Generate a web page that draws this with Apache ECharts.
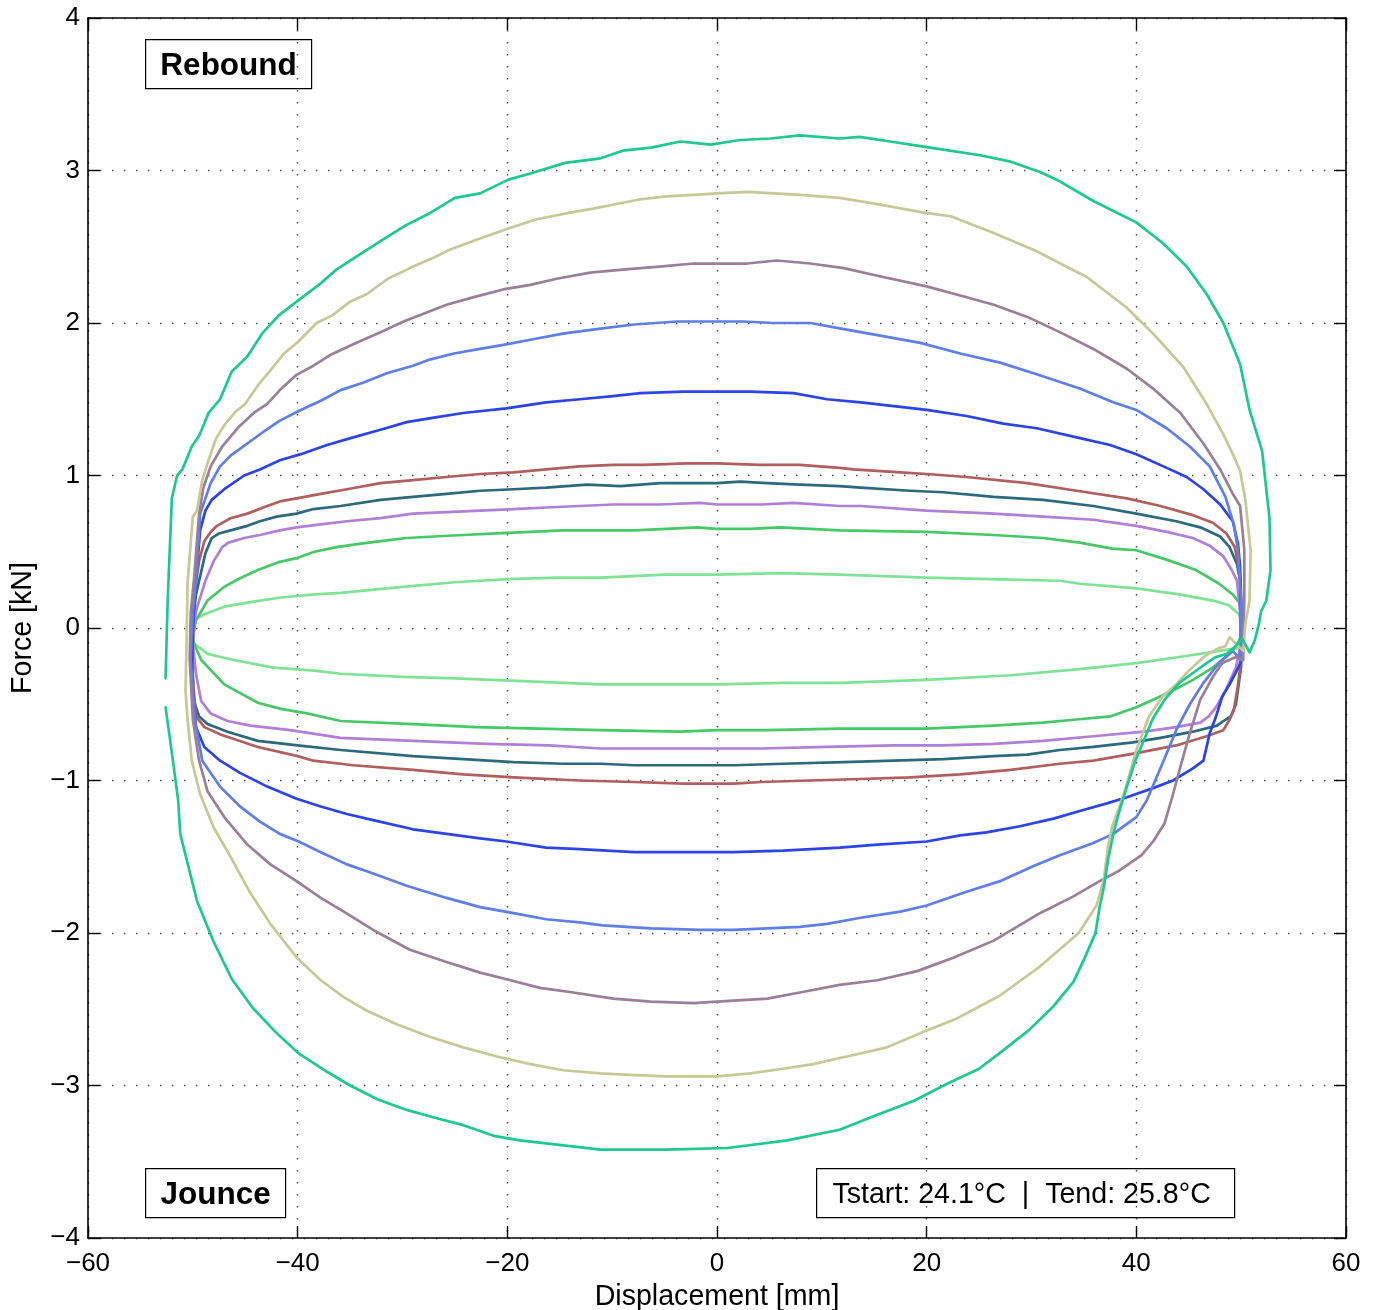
<!DOCTYPE html>
<html>
<head>
<meta charset="utf-8">
<title>Force vs Displacement</title>
<script src="https://cdn.jsdelivr.net/npm/echarts@6/dist/echarts.min.js"></script>
<style>
  html, body { margin: 0; padding: 0; background: #fff; }
  #app { width: 1380px; height: 1310px; }
</style>
</head>
<body>
<div id="app"></div>
<script>
// axis ticks
var xTicks = [-60, -40, -20, 0, 20, 40, 60];
var yTicks = [-4, -3, -2, -1, 0, 1, 2, 3, 4];

// each loop: upper branch (left -> right), lower branch (right -> left)  [mm, kN]
var tealUpper = [[-52.6,-0.33],[-52.4,0.18],[-52.0,0.85],[-51.5,1.00],[-51.0,1.04],[-50.1,1.19],[-49.4,1.26],[-48.5,1.41],[-47.4,1.50],[-46.3,1.68],[-44.8,1.78],[-43.4,1.93],[-41.8,2.05],[-40.1,2.14],[-37.8,2.26],[-36.3,2.35],[-34.3,2.44],[-31.8,2.55],[-29.7,2.64],[-27.4,2.72],[-25.0,2.82],[-22.6,2.85],[-19.9,2.94],[-17.8,2.98],[-14.5,3.05],[-11.1,3.08],[-9.0,3.13],[-6.3,3.15],[-3.5,3.19],[-0.6,3.17],[2.2,3.20],[5.1,3.21],[7.9,3.23],[11.7,3.21],[13.6,3.22],[16.5,3.19],[19.4,3.16],[22.2,3.13],[25.1,3.10],[27.9,3.06],[30.8,2.99],[32.4,2.94],[35.9,2.80],[40.0,2.66],[42.6,2.52],[44.8,2.37],[46.7,2.19],[48.3,2.00],[49.9,1.73],[50.8,1.43],[52.0,1.16],[52.7,0.72],[52.8,0.38],[52.4,0.18],[51.9,0.11],[51.7,0.03],[51.3,-0.08],[50.8,-0.16],[50.1,-0.07]];
var tealLower = [[49.3,-0.13],[48.6,-0.17],[47.6,-0.19],[46.7,-0.23],[45.3,-0.30],[44.1,-0.36],[42.7,-0.47],[41.6,-0.59],[40.7,-0.74],[39.9,-0.87],[39.1,-1.04],[38.3,-1.22],[37.8,-1.35],[37.3,-1.52],[36.9,-1.70],[36.5,-1.83],[36.1,-2.00],[35.1,-2.16],[34.0,-2.32],[32.1,-2.48],[29.7,-2.64],[27.3,-2.77],[25.0,-2.89],[21.9,-2.99],[18.8,-3.10],[15.0,-3.20],[11.7,-3.29],[6.7,-3.36],[1.0,-3.41],[-4.8,-3.42],[-11.1,-3.42],[-16.3,-3.38],[-18.8,-3.36],[-21.3,-3.33],[-24.2,-3.26],[-27.0,-3.21],[-29.6,-3.16],[-32.4,-3.09],[-35.0,-3.00],[-37.2,-2.91],[-39.9,-2.79],[-42.1,-2.65],[-44.3,-2.49],[-46.3,-2.30],[-48.0,-2.06],[-49.6,-1.79],[-51.2,-1.35],[-51.4,-1.13],[-51.9,-0.87],[-52.3,-0.67],[-52.6,-0.52]];

var khakiUpper = [[-50.6,-0.10],[-50.5,0.30],[-50.0,0.73],[-49.6,0.77],[-49.1,0.97],[-48.6,1.08],[-47.8,1.24],[-47.0,1.33],[-45.9,1.42],[-45.0,1.47],[-43.7,1.60],[-42.6,1.69],[-41.3,1.80],[-39.9,1.88],[-38.2,2.00],[-36.7,2.05],[-35.0,2.14],[-33.4,2.19],[-31.4,2.29],[-29.3,2.36],[-27.0,2.43],[-25.5,2.48],[-23.2,2.54],[-19.9,2.62],[-17.2,2.68],[-14.3,2.72],[-11.8,2.75],[-9.6,2.78],[-7.4,2.81],[-4.8,2.83],[-2.2,2.84],[0,2.85],[2.9,2.86],[5.4,2.85],[7.9,2.84],[11.7,2.82],[15.3,2.78],[20.0,2.72],[22.3,2.70],[26.4,2.59],[30.5,2.47],[35.3,2.30],[39.1,2.10],[41.6,1.93],[44.5,1.71],[46.7,1.47],[48.3,1.27],[49.2,1.14],[49.9,1.03],[50.4,0.84],[50.9,0.51],[50.8,0.18],[50.4,0.03],[50.2,-0.15],[48.9,-0.06],[48.5,-0.12]];
var khakiLower = [[47.9,-0.13],[46.6,-0.18],[45.0,-0.28],[43.8,-0.37],[42.5,-0.45],[41.2,-0.58],[40.0,-0.80],[39.1,-1.02],[38.3,-1.19],[37.7,-1.30],[37.3,-1.43],[36.9,-1.65],[36.2,-1.82],[34.5,-2.00],[30.8,-2.22],[27.0,-2.41],[22.9,-2.56],[20.0,-2.64],[16.2,-2.75],[13.7,-2.79],[11.7,-2.82],[9.2,-2.86],[6.3,-2.89],[3.2,-2.92],[0,-2.94],[-4.8,-2.94],[-8.3,-2.93],[-11.1,-2.92],[-14.7,-2.90],[-17.8,-2.86],[-21.0,-2.81],[-24.2,-2.75],[-27.4,-2.68],[-30.5,-2.60],[-33.4,-2.51],[-35.6,-2.42],[-37.8,-2.31],[-40.1,-2.16],[-42.6,-1.94],[-44.5,-1.74],[-46.4,-1.50],[-48.0,-1.31],[-49.3,-1.09],[-50.1,-0.87],[-50.5,-0.60],[-50.7,-0.41],[-50.6,-0.10]];

var mauveUpper = [[-50.3,-0.20],[-50.2,0.10],[-49.9,0.31],[-49.4,0.75],[-49.0,0.92],[-48.3,1.06],[-47.2,1.19],[-45.6,1.32],[-44.2,1.41],[-42.9,1.47],[-41.7,1.56],[-40.1,1.66],[-38.5,1.72],[-36.9,1.79],[-34.7,1.86],[-32.1,1.94],[-29.9,2.01],[-28.0,2.06],[-25.8,2.12],[-23.2,2.17],[-20.4,2.22],[-17.8,2.25],[-15.3,2.29],[-12.1,2.33],[-9.0,2.35],[-5.5,2.37],[-2.2,2.39],[0,2.39],[2.9,2.39],[5.7,2.41],[8.9,2.39],[12.1,2.36],[15.3,2.31],[20.0,2.24],[23.2,2.18],[26.4,2.12],[29.6,2.04],[32.7,1.94],[35.9,1.83],[39.1,1.70],[41.6,1.57],[44.2,1.41],[46.4,1.21],[48.0,1.04],[49.2,0.88],[49.9,0.80],[50.3,0.51],[50.3,0.18],[50.2,-0.06],[50.2,-0.21]];
var mauveLower = [[49.5,-0.19],[48.2,-0.23],[47.3,-0.32],[46.1,-0.47],[45.1,-0.69],[44.2,-0.91],[43.5,-1.09],[42.7,-1.28],[41.6,-1.40],[40.5,-1.49],[38.4,-1.59],[36.5,-1.66],[34.0,-1.76],[30.8,-1.87],[26.4,-2.05],[22.6,-2.16],[19.1,-2.25],[15.3,-2.31],[11.7,-2.34],[7.9,-2.39],[4.8,-2.43],[0,-2.45],[-2.2,-2.46],[-6.3,-2.45],[-9.9,-2.43],[-13.7,-2.39],[-16.9,-2.36],[-19.7,-2.31],[-22.6,-2.26],[-25.8,-2.19],[-29.3,-2.11],[-32.8,-1.98],[-35.6,-1.86],[-37.8,-1.77],[-40.1,-1.66],[-42.6,-1.55],[-44.8,-1.42],[-47.0,-1.24],[-48.6,-1.07],[-49.4,-0.87],[-50.0,-0.60],[-50.3,-0.20]];

var cornUpper = [[-50.2,-0.20],[-50.0,0.10],[-49.7,0.31],[-49.3,0.75],[-48.3,0.95],[-47.4,1.06],[-46.4,1.13],[-44.8,1.21],[-43.2,1.29],[-41.7,1.36],[-39.7,1.43],[-37.8,1.49],[-35.9,1.56],[-33.7,1.61],[-31.5,1.67],[-29.0,1.72],[-27.4,1.76],[-25.1,1.80],[-22.6,1.83],[-20.1,1.86],[-17.8,1.89],[-14.7,1.93],[-11.5,1.96],[-7.9,1.99],[-3.8,2.01],[0,2.01],[2.5,2.01],[5.4,2.00],[8.9,2.00],[12.1,1.96],[15.3,1.92],[19.4,1.87],[23.2,1.80],[27.0,1.74],[30.2,1.67],[34.6,1.57],[37.8,1.48],[40.0,1.43],[42.9,1.31],[45.1,1.19],[47.0,1.06],[48.5,0.86],[49.3,0.68],[49.7,0.51],[50.0,0.18],[50.0,-0.06],[50.0,-0.21]];
var cornLower = [[49.2,-0.15],[47.9,-0.23],[47.3,-0.28],[46.3,-0.37],[45.1,-0.50],[43.8,-0.67],[42.6,-0.87],[41.0,-1.13],[40.0,-1.24],[37.8,-1.35],[35.9,-1.41],[32.7,-1.49],[30.2,-1.56],[27.0,-1.66],[23.8,-1.73],[20.0,-1.82],[17.5,-1.86],[13.7,-1.90],[10.5,-1.94],[7.9,-1.96],[4.8,-1.97],[1.6,-1.98],[-1.6,-1.98],[-6.3,-1.97],[-10.9,-1.95],[-13.1,-1.93],[-16.3,-1.91],[-19.4,-1.87],[-22.6,-1.83],[-25.8,-1.77],[-29.6,-1.69],[-32.8,-1.61],[-35.3,-1.55],[-37.8,-1.47],[-39.9,-1.40],[-41.7,-1.35],[-43.6,-1.27],[-45.5,-1.17],[-47.4,-1.04],[-49.1,-0.87],[-49.8,-0.60],[-50.2,-0.20]];

var blueUpper = [[-50.1,-0.30],[-50.0,0.0],[-49.9,0.15],[-49.6,0.40],[-49.3,0.64],[-48.8,0.77],[-48.2,0.84],[-47.0,0.91],[-45.1,1.00],[-43.6,1.04],[-41.7,1.10],[-39.7,1.14],[-37.2,1.20],[-34.7,1.25],[-32.1,1.30],[-29.6,1.35],[-27.0,1.38],[-24.2,1.41],[-20.1,1.44],[-16.3,1.48],[-13.1,1.50],[-9.9,1.52],[-7.3,1.54],[-3.2,1.55],[0,1.55],[3.2,1.55],[7.3,1.54],[10.5,1.50],[13.7,1.48],[17.5,1.45],[20.0,1.43],[23.8,1.39],[27.3,1.34],[30.5,1.31],[34.3,1.25],[37.5,1.20],[40.0,1.14],[42.9,1.05],[44.8,0.99],[46.4,0.91],[48.0,0.81],[49.2,0.70],[49.7,0.55],[49.9,0.40],[50.0,0.18],[50.0,-0.04],[50.0,-0.21]];
var blueLower = [[49.8,-0.25],[48.9,-0.37],[48.2,-0.45],[47.6,-0.58],[47.0,-0.69],[46.4,-0.87],[45.4,-0.92],[43.5,-1.00],[41.6,-1.05],[39.1,-1.11],[37.2,-1.15],[34.6,-1.20],[32.1,-1.25],[28.9,-1.30],[25.7,-1.34],[23.2,-1.36],[20.0,-1.40],[15.3,-1.42],[11.7,-1.44],[6.3,-1.46],[1.6,-1.47],[-3.2,-1.47],[-7.9,-1.47],[-13.1,-1.45],[-16.3,-1.44],[-20.1,-1.40],[-22.6,-1.38],[-25.8,-1.35],[-29.0,-1.32],[-32.8,-1.26],[-35.3,-1.22],[-37.8,-1.17],[-40.1,-1.12],[-42.9,-1.04],[-45.5,-0.95],[-47.4,-0.87],[-48.9,-0.78],[-49.7,-0.65],[-50.0,-0.41],[-50.1,-0.30]];

var redUpper = [[-50.1,-0.10],[-49.9,0.20],[-49.4,0.44],[-48.9,0.57],[-48.3,0.63],[-47.7,0.67],[-46.4,0.72],[-44.8,0.75],[-42.9,0.80],[-41.7,0.83],[-40.1,0.85],[-37.8,0.88],[-35.3,0.91],[-32.1,0.95],[-29.0,0.97],[-25.8,0.99],[-22.6,1.01],[-19.4,1.02],[-16.3,1.04],[-13.1,1.06],[-9.9,1.07],[-7.0,1.07],[-2.9,1.08],[0,1.08],[4.1,1.07],[7.9,1.07],[11.7,1.05],[13.0,1.04],[17.5,1.02],[20.0,1.01],[23.8,0.99],[29.6,0.95],[34.3,0.90],[39.1,0.85],[42.3,0.80],[45.4,0.74],[47.3,0.69],[48.6,0.62],[49.4,0.53],[49.7,0.42],[49.9,0.31],[50.0,0.10],[50.0,-0.10],[50.0,-0.21]];
var redLower = [[49.7,-0.37],[49.3,-0.54],[48.9,-0.60],[48.3,-0.67],[46.7,-0.71],[43.8,-0.77],[40.0,-0.82],[35.9,-0.87],[32.7,-0.89],[28.0,-0.93],[23.2,-0.96],[18.4,-0.98],[13.7,-0.99],[8.9,-1.00],[4.2,-1.01],[1.6,-1.02],[-3.2,-1.02],[-7.9,-1.01],[-13.1,-1.00],[-19.4,-0.98],[-24.2,-0.96],[-29.0,-0.93],[-34.7,-0.90],[-38.5,-0.87],[-40.0,-0.84],[-43.8,-0.78],[-47.3,-0.70],[-48.9,-0.65],[-49.7,-0.58],[-50.0,-0.34],[-50.1,-0.10]];

var dtealUpper = [[-50.1,-0.15],[-49.9,0.10],[-49.7,0.22],[-49.1,0.40],[-48.8,0.49],[-48.2,0.59],[-47.5,0.62],[-46.4,0.64],[-44.8,0.67],[-43.6,0.70],[-42.0,0.73],[-40.1,0.75],[-38.5,0.78],[-35.9,0.80],[-32.1,0.84],[-29.0,0.86],[-25.8,0.88],[-22.6,0.90],[-19.4,0.91],[-16.3,0.92],[-12.4,0.94],[-9.2,0.93],[-5.4,0.95],[0,0.95],[2.2,0.96],[4.8,0.95],[7.9,0.94],[11.7,0.93],[13.7,0.92],[18.4,0.90],[21.6,0.89],[26.4,0.86],[31.1,0.84],[35.9,0.80],[40.0,0.75],[43.8,0.70],[46.1,0.66],[48.0,0.60],[48.9,0.53],[49.6,0.42],[49.9,0.31],[50.0,0.10],[50.0,-0.10],[50.0,-0.25]];
var dtealLower = [[49.5,-0.50],[49.0,-0.58],[48.3,-0.61],[47.7,-0.64],[45.4,-0.68],[42.3,-0.72],[39.7,-0.75],[35.9,-0.78],[32.7,-0.80],[29.6,-0.83],[26.4,-0.84],[21.6,-0.86],[16.9,-0.87],[12.1,-0.88],[6.3,-0.89],[1.6,-0.90],[-2.2,-0.90],[-7.9,-0.90],[-11.1,-0.89],[-14.7,-0.89],[-19.4,-0.88],[-24.2,-0.86],[-29.0,-0.84],[-35.9,-0.80],[-40.0,-0.77],[-43.8,-0.74],[-46.7,-0.68],[-48.6,-0.63],[-49.4,-0.58],[-49.9,-0.48],[-50.1,-0.15]];

var lilacUpper = [[-50.0,-0.10],[-49.7,0.11],[-48.8,0.31],[-48.0,0.44],[-47.2,0.53],[-46.6,0.56],[-45.1,0.59],[-43.6,0.61],[-41.7,0.64],[-40.1,0.66],[-37.8,0.68],[-35.3,0.70],[-32.1,0.72],[-29.0,0.75],[-25.8,0.76],[-22.6,0.77],[-19.4,0.78],[-16.3,0.79],[-13.1,0.80],[-9.9,0.81],[-5.5,0.81],[-1.6,0.82],[0,0.81],[4.2,0.81],[7.3,0.82],[11.7,0.80],[13.7,0.80],[20.0,0.77],[26.4,0.75],[31.1,0.73],[35.9,0.71],[40.0,0.67],[42.9,0.63],[45.4,0.59],[47.0,0.54],[48.3,0.47],[49.1,0.38],[49.6,0.31],[49.9,0.10],[50.0,-0.10]];
var lilacLower = [[49.5,-0.26],[48.5,-0.41],[47.6,-0.52],[46.9,-0.58],[46.1,-0.62],[43.8,-0.65],[40.7,-0.68],[35.9,-0.71],[31.1,-0.74],[26.4,-0.76],[21.6,-0.77],[16.9,-0.77],[10.5,-0.78],[4.2,-0.79],[0,-0.79],[-3.5,-0.79],[-11.1,-0.79],[-16.0,-0.77],[-22.0,-0.76],[-29.0,-0.74],[-35.9,-0.72],[-40.7,-0.67],[-44.5,-0.64],[-46.7,-0.61],[-48.3,-0.56],[-49.2,-0.48],[-49.7,-0.30],[-50.0,-0.10]];

var greenUpper = [[-50.0,-0.05],[-49.7,0.05],[-48.6,0.18],[-47.0,0.27],[-45.7,0.32],[-43.8,0.38],[-41.9,0.43],[-40.0,0.46],[-38.4,0.50],[-36.3,0.53],[-34.3,0.55],[-32.1,0.57],[-29.6,0.59],[-27.0,0.60],[-24.2,0.61],[-21.0,0.62],[-17.8,0.63],[-14.7,0.64],[-11.1,0.64],[-7.9,0.64],[-4.8,0.65],[-1.9,0.66],[0,0.65],[3.2,0.65],[6.0,0.66],[11.7,0.64],[20.0,0.63],[26.4,0.61],[31.1,0.59],[34.6,0.56],[37.7,0.52],[40.0,0.51],[42.8,0.45],[45.7,0.38],[47.9,0.29],[49.2,0.22],[49.9,0.16],[50.0,0.03],[50.0,-0.06]];
var greenLower = [[49.2,-0.15],[47.3,-0.26],[45.4,-0.34],[43.5,-0.41],[41.6,-0.47],[40.0,-0.52],[37.5,-0.58],[34.3,-0.60],[31.1,-0.62],[26.4,-0.64],[20.0,-0.66],[13.7,-0.66],[11.7,-0.66],[4.8,-0.67],[0,-0.67],[-3.5,-0.68],[-11.1,-0.67],[-17.0,-0.66],[-23.0,-0.65],[-29.0,-0.63],[-35.9,-0.61],[-39.1,-0.56],[-41.6,-0.53],[-43.8,-0.49],[-45.4,-0.43],[-47.0,-0.37],[-49.2,-0.21],[-49.9,-0.10],[-50.0,-0.05]];

var lgreenUpper = [[-50.0,-0.05],[-49.9,0.05],[-48.9,0.09],[-47.0,0.14],[-44.5,0.17],[-41.6,0.20],[-38.4,0.22],[-35.9,0.23],[-30.0,0.27],[-25.0,0.30],[-20.0,0.32],[-15.0,0.33],[-11.1,0.33],[-5.0,0.35],[0,0.35],[6.0,0.36],[11.7,0.35],[20.0,0.33],[26.0,0.32],[32.7,0.31],[34.6,0.29],[40.0,0.26],[44.1,0.22],[47.3,0.18],[48.8,0.15],[49.8,0.09],[50.0,0.03]];
var lgreenLower = [[49.8,-0.13],[47.9,-0.15],[44.1,-0.19],[40.0,-0.23],[34.6,-0.27],[28.0,-0.31],[20.0,-0.34],[11.7,-0.36],[6.3,-0.36],[0,-0.37],[-4.8,-0.37],[-11.1,-0.37],[-18.0,-0.35],[-25.0,-0.33],[-30.0,-0.32],[-35.9,-0.30],[-38.4,-0.28],[-42.3,-0.26],[-46.1,-0.21],[-48.6,-0.17],[-49.9,-0.10],[-50.0,-0.05]];

var tStart = 24.1;
var tEnd = 25.8;

window.onload = function() {
	var myChart = echarts.init(document.getElementById('app'), null, { renderer: 'canvas' });
	var FONT = 'Liberation Sans';

	// drawn inner first so the big loops end up on top
	var loops = [
		{ name: 'lgreen', color: '#7fe396', up: lgreenUpper, low: lgreenLower },
		{ name: 'green', color: '#45c865', up: greenUpper, low: greenLower },
		{ name: 'lilac', color: '#b07fd6', up: lilacUpper, low: lilacLower },
		{ name: 'dteal', color: '#2d697d', up: dtealUpper, low: dtealLower },
		{ name: 'red', color: '#b05e5e', up: redUpper, low: redLower },
		{ name: 'blue', color: '#2b44e6', up: blueUpper, low: blueLower },
		{ name: 'corn', color: '#5f7fe6', up: cornUpper, low: cornLower },
		{ name: 'mauve', color: '#9a7f98', up: mauveUpper, low: mauveLower },
		{ name: 'khaki', color: '#c8c896', up: khakiUpper, low: khakiLower },
		{ name: 'teal', color: '#1ec891', up: tealUpper, low: tealLower }
	];

	function fmt(v) {
		return String(v).replace('-', '\u2212');
	}

	var dotted = { color: '#444', width: 1.4, type: [1.4, 10.6] };
	var tick = { show: true, inside: true, length: 12, lineStyle: { color: '#000', width: 1.4 } };
	var line = { show: true, onZero: false, lineStyle: { color: '#000', width: 1.6 } };

	var option = {
		animation: false,
		backgroundColor: '#fff',
		grid: { left: 88, top: 18, right: 34, bottom: 72, containLabel: false, outerBoundsMode: 'none' },
		xAxis: [{
			type: 'value', min: -60, max: 60, interval: 20, position: 'bottom',
			axisLine: line, axisTick: tick,
			axisLabel: { margin: 13, color: '#000', fontFamily: FONT, fontSize: 26, formatter: fmt,
				customValues: xTicks },
			splitLine: { show: true, lineStyle: dotted },
			name: 'Displacement [mm]', nameLocation: 'middle', nameGap: 45,
			nameTextStyle: { color: '#000', fontFamily: FONT, fontSize: 28.6 }
		}, {
			type: 'value', min: -60, max: 60, interval: 20, position: 'top',
			axisLine: line, axisTick: tick, axisLabel: { show: false }, splitLine: { show: false }
		}],
		yAxis: [{
			type: 'value', min: -4, max: 4, interval: 1, position: 'left',
			axisLine: line, axisTick: tick,
			axisLabel: { margin: 8, color: '#000', fontFamily: FONT, fontSize: 26, formatter: fmt,
				customValues: yTicks },
			splitLine: { show: true, lineStyle: dotted },
			name: 'Force [kN]', nameLocation: 'middle', nameGap: 50,
			nameTextStyle: { color: '#000', fontFamily: FONT, fontSize: 28.6 }
		}, {
			type: 'value', min: -4, max: 4, interval: 1, position: 'right',
			axisLine: line, axisTick: tick, axisLabel: { show: false }, splitLine: { show: false }
		}],
		series: loops.map(function(l) {
			return {
				name: l.name,
				type: 'line',
				xAxisIndex: 0,
				yAxisIndex: 0,
				data: l.up.concat(l.low),
				showSymbol: false,
				symbol: 'none',
				silent: true,
				lineStyle: { color: l.color, width: 2.7, cap: 'round', join: 'round' },
				emphasis: { disabled: true }
			};
		}),
		graphic: [
			{
				type: 'group', left: 145, top: 39,
				children: [
					{ type: 'rect', shape: { x: 0, y: 0, width: 166, height: 49 },
						style: { fill: '#fff', stroke: '#000', lineWidth: 1.2 } },
					{ type: 'text', x: 83, y: 26.5,
						style: { text: 'Rebound', fill: '#000', align: 'center', verticalAlign: 'middle',
							font: 'bold 31.5px "Liberation Sans"' } }
				]
			},
			{
				type: 'group', left: 145, top: 1168,
				children: [
					{ type: 'rect', shape: { x: 0, y: 0, width: 140, height: 49 },
						style: { fill: '#fff', stroke: '#000', lineWidth: 1.2 } },
					{ type: 'text', x: 70, y: 26.5,
						style: { text: 'Jounce', fill: '#000', align: 'center', verticalAlign: 'middle',
							font: 'bold 31.5px "Liberation Sans"' } }
				]
			},
			{
				type: 'group', left: 816, top: 1168,
				children: [
					{ type: 'rect', shape: { x: 0, y: 0, width: 418, height: 49 },
						style: { fill: '#fff', stroke: '#000', lineWidth: 1.2 } },
					{ type: 'text', x: 205, y: 26.5,
						style: { text: 'Tstart: ' + tStart + '\u00b0C  |  Tend: ' + tEnd + '\u00b0C',
							fill: '#000', align: 'center', verticalAlign: 'middle',
							font: '28.6px "Liberation Sans"' } }
				]
			}
		]
	};
	myChart.setOption(option);
};
</script>
</body>
</html>
